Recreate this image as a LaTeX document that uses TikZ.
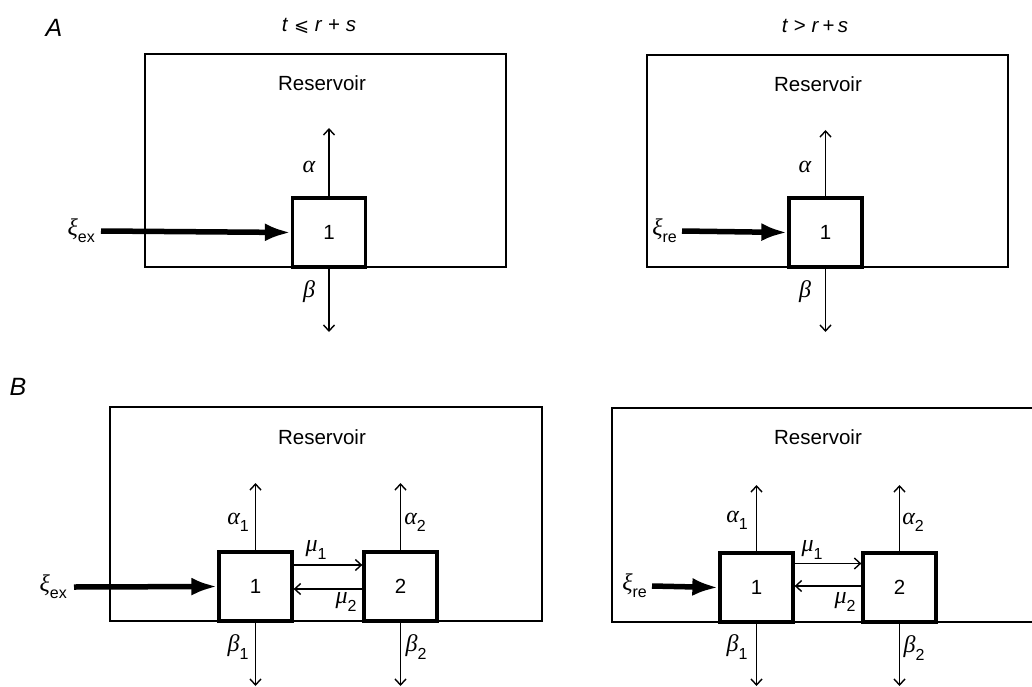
\documentclass[tikz,border=0pt]{standalone}
\usepackage{fontspec}
\setmainfont{Liberation Sans}
\newfontfamily\grk{Liberation Serif}
\newfontfamily\symf{DejaVu Sans}
\newcommand{\gsym}[1]{{\grk\itshape #1}}
\newcommand{\lowsub}[1]{\raisebox{-0.3em}{\fontsize{16}{16}\selectfont #1}}
\usetikzlibrary{arrows.meta}
\begin{document}
\begin{tikzpicture}[x=1pt,y=-1pt,
  every node/.style={font=\fontsize{20.5}{24}\selectfont, inner sep=0pt},
  res/.style={draw, line width=1.6pt},
  comp/.style={draw, line width=3.3pt, fill=white, minimum width=73pt, minimum height=69pt},
  flow/.style={line width=1.4pt, -{Straight Barb[length=6pt,width=11pt]}},
  input/.style={line width=5.5pt, -{Latex[length=26pt,width=18pt]}},
  glbl/.style={font=\fontsize{24}{26}\selectfont},
  panel/.style={font=\fontsize{25}{28}\selectfont\itshape}
]
\useasboundingbox (0,0) rectangle (1032,687);
\clip (0,0) rectangle (1032,687);

% ---------------- Panel A, left ----------------
\node[panel] (labA) at (54,28) {A};
\node (titleA1) at (319,26) {\textit{t} {\symf\fontsize{18}{20}\selectfont ⩽} \textit{r} + \textit{s}};
\node[res, minimum width=361pt, minimum height=213pt] (resA1) at (325.5,160.5) {};
\node (rtA1) at (322,83) {Reservoir};
\node[comp] (a1) at (329,232.5) {1};
\coordinate (a1up) at (329,128);
\coordinate (a1dn) at (329,332);
\coordinate (a1in) at (101,231);
\draw[flow] (a1.north) -- (a1up);
\draw[flow] (a1.south) -- (a1dn);
\draw[input] (a1in) -- (a1.west);
\node[glbl] (alA1) at (309,167) {\gsym{α}};
\node[glbl] (beA1) at (309,292) {\gsym{β}};
\node[glbl, anchor=east] (xiA1) at (95,231) {\gsym{ξ}\lowsub{ex}};

% ---------------- Panel A, right ----------------
\node (titleA2) at (815,26) {\textit{t} > \textit{r}\,+\,\textit{s}};
\node[res, minimum width=361pt, minimum height=212pt] (resA2) at (827.5,161) {};
\node (rtA2) at (818,84) {Reservoir};
\node[comp] (a2) at (825.5,232.5) {1};
\coordinate (a2up) at (825.5,130);
\coordinate (a2dn) at (825.5,332);
\coordinate (a2in) at (682,231);
\draw[flow] (a2.north) -- (a2up);
\draw[flow] (a2.south) -- (a2dn);
\draw[input] (a2in) -- (a2.west);
\node[glbl] (alA2) at (805,167) {\gsym{α}};
\node[glbl] (beA2) at (805,292) {\gsym{β}};
\node[glbl, anchor=east] (xiA2) at (677,231) {\gsym{ξ}\lowsub{re}};

% ---------------- Panel B, left ----------------
\node[panel] (labB) at (18,387) {B};
\node[res, minimum width=432pt, minimum height=214pt] (resB1) at (326,514) {};
\node (rtB1) at (322,437) {Reservoir};
\node[comp] (b11) at (255.5,586.5) {1};
\node[comp] (b12) at (400.5,586.5) {2};
\coordinate (b11up) at (255.5,483);
\coordinate (b11dn) at (255.5,686);
\coordinate (b12up) at (400.5,483);
\coordinate (b12dn) at (400.5,686);
\coordinate (b1in) at (74,587);
\draw[flow] (b11.north) -- (b11up);
\draw[flow] (b11.south) -- (b11dn);
\draw[flow] (b12.north) -- (b12up);
\draw[flow] (b12.south) -- (b12dn);
\draw[input] (b1in) -- (b11.west);
\draw[flow] ([yshift=21.5pt]b11.east) -- ([yshift=21.5pt]b12.west);
\draw[flow] ([yshift=-2.5pt]b12.west) -- ([yshift=-2.5pt]b11.east);
\node[glbl] (alB11) at (238,522) {\gsym{α}\lowsub{1}};
\node[glbl] (alB12) at (415,522) {\gsym{α}\lowsub{2}};
\node[glbl] (beB11) at (238,647) {\gsym{β}\lowsub{1}};
\node[glbl] (beB12) at (416,647) {\gsym{β}\lowsub{2}};
\node[glbl] (muB11) at (316,550) {\gsym{μ}\lowsub{1}};
\node[glbl] (muB12) at (346,602) {\gsym{μ}\lowsub{2}};
\node[glbl, anchor=east] (xiB1) at (67,587) {\gsym{ξ}\lowsub{ex}};

% ---------------- Panel B, right ----------------
\node[res, minimum width=440pt, minimum height=214pt] (resB2) at (832,515) {};
\node (rtB2) at (818,437) {Reservoir};
\node[comp] (b21) at (756.5,587.5) {1};
\node[comp] (b22) at (899.5,587.5) {2};
\coordinate (b21up) at (756.5,485);
\coordinate (b21dn) at (756.5,686);
\coordinate (b22up) at (899.5,485);
\coordinate (b22dn) at (899.5,686);
\coordinate (b2in) at (652,586);
\draw[flow] (b21.north) -- (b21up);
\draw[flow] (b21.south) -- (b21dn);
\draw[flow] (b22.north) -- (b22up);
\draw[flow] (b22.south) -- (b22dn);
\draw[input] (b2in) -- (b21.west);
\draw[flow] ([yshift=24pt]b21.east) -- ([yshift=24pt]b22.west);
\draw[flow] ([yshift=1.5pt]b22.west) -- ([yshift=1.5pt]b21.east);
\node[glbl] (alB21) at (737,520) {\gsym{α}\lowsub{1}};
\node[glbl] (alB22) at (913,522) {\gsym{α}\lowsub{2}};
\node[glbl] (beB21) at (737,647) {\gsym{β}\lowsub{1}};
\node[glbl] (beB22) at (914,648) {\gsym{β}\lowsub{2}};
\node[glbl] (muB21) at (812,550) {\gsym{μ}\lowsub{1}};
\node[glbl] (muB22) at (845,602) {\gsym{μ}\lowsub{2}};
\node[glbl, anchor=east] (xiB2) at (647,586) {\gsym{ξ}\lowsub{re}};
\end{tikzpicture}
\end{document}
